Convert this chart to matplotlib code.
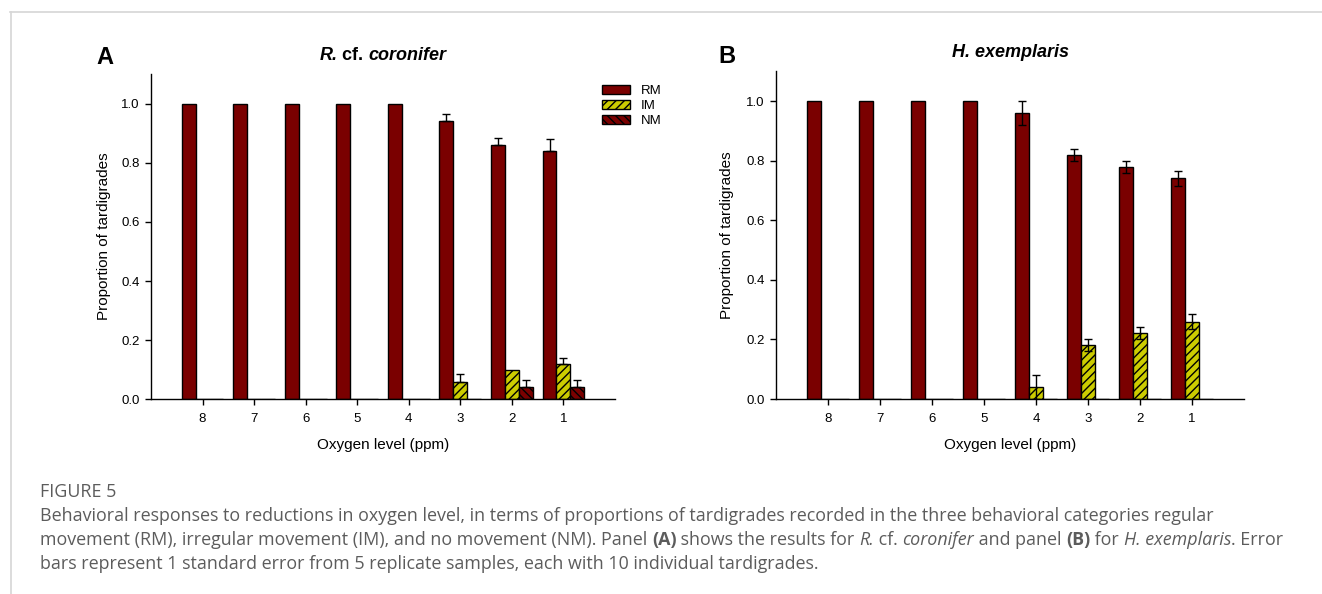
import numpy as np
import matplotlib
matplotlib.use("Agg")
import matplotlib.pyplot as plt
from matplotlib.patches import Patch
from matplotlib.lines import Line2D

# ---------------- data ----------------
oxygen_levels = ["8", "7", "6", "5", "4", "3", "2", "1"]

a_rm = [1.00, 1.00, 1.00, 1.00, 1.00, 0.94, 0.86, 0.84]
a_rm_err = [0, 0, 0, 0, 0, 0.024, 0.024, 0.04]
a_im = [0, 0, 0, 0, 0, 0.06, 0.10, 0.12]
a_im_err = [0, 0, 0, 0, 0, 0.024, 0.0, 0.02]
a_nm = [0, 0, 0, 0, 0, 0, 0.04, 0.04]
a_nm_err = [0, 0, 0, 0, 0, 0, 0.024, 0.024]

b_rm = [1.00, 1.00, 1.00, 1.00, 0.96, 0.82, 0.78, 0.74]
b_rm_err = [0, 0, 0, 0, 0.04, 0.02, 0.02, 0.025]
b_im = [0, 0, 0, 0, 0.04, 0.18, 0.22, 0.26]
b_im_err = [0, 0, 0, 0, 0.04, 0.02, 0.02, 0.025]
b_nm = [0, 0, 0, 0, 0, 0, 0, 0]
b_nm_err = [0, 0, 0, 0, 0, 0, 0, 0]

legend_labels = ["RM", "IM", "NM"]

# ---------------- style ----------------
W, H = 1322, 594
plt.rcParams["font.family"] = ["Liberation Sans", "DejaVu Sans"]
plt.rcParams["hatch.linewidth"] = 1.0
RM_COLOR = "#7a0000"
IM_COLOR = "#cccc00"
NM_COLOR = "#7a0000"
BW = 0.27

fig = plt.figure(figsize=(W / 100, H / 100), dpi=100)


def px_axes(l, t, r, b):
    return [l / W, 1 - b / H, (r - l) / W, (b - t) / H]


def panel(ax, rm, rme, im, ime, nm, nme, upper_only):
    x = np.arange(len(oxygen_levels))
    kw = dict(width=BW, edgecolor="black", linewidth=1.0, zorder=2)
    ax.bar(x - BW, rm, color=RM_COLOR, **kw)
    ax.bar(x, im, color=IM_COLOR, hatch="////", **kw)
    ax.bar(x + BW, nm, color=NM_COLOR, hatch="\\\\\\\\", **kw)
    for off, vals, errs in ((-BW, rm, rme), (0, im, ime), (BW, nm, nme)):
        vals = np.array(vals)
        errs = np.array(errs)
        m = errs > 0
        if not m.any():
            continue
        low = np.zeros_like(errs) if upper_only else errs
        ax.errorbar(x[m] + off, vals[m], yerr=[low[m], errs[m]], fmt="none",
                    ecolor="black", elinewidth=1.0, capsize=3.2, capthick=1.0,
                    zorder=3)
    ax.set_xlim(-1, 8)
    ax.set_ylim(0, 1.1)
    ax.set_xticks(x)
    ax.set_xticklabels(oxygen_levels)
    ax.set_yticks([0, 0.2, 0.4, 0.6, 0.8, 1.0])
    ax.set_yticklabels(["0.0", "0.2", "0.4", "0.6", "0.8", "1.0"])
    ax.tick_params(direction="out", length=4, width=1, labelsize=9.5, pad=4)
    ax.tick_params(axis="x", pad=6)
    for s in ("top", "right"):
        ax.spines[s].set_visible(False)
    for s in ("left", "bottom"):
        ax.spines[s].set_linewidth(1.0)
    ax.set_xlabel("Oxygen level (ppm)", fontsize=11)
    ax.set_ylabel("Proportion of tardigrades", fontsize=11)


axA = fig.add_axes(px_axes(151, 74, 615, 399.3))
panel(axA, a_rm, a_rm_err, a_im, a_im_err, a_nm, a_nm_err, upper_only=True)
axA.yaxis.set_label_coords(-0.087, 0.5)
axA.xaxis.set_label_coords(0.5, -0.118)

axB = fig.add_axes(px_axes(776, 71.2, 1244, 399))
panel(axB, b_rm, b_rm_err, b_im, b_im_err, b_nm, b_nm_err, upper_only=False)
axB.yaxis.set_label_coords(-0.09, 0.5)
axB.xaxis.set_label_coords(0.5, -0.118)

# legend (panel A)
handles = [Patch(facecolor=RM_COLOR, edgecolor="black", linewidth=1.0),
           Patch(facecolor=IM_COLOR, edgecolor="black", linewidth=1.0, hatch="////"),
           Patch(facecolor=NM_COLOR, edgecolor="black", linewidth=1.0, hatch="\\\\\\\\")]
fig.legend(handles, legend_labels, loc="upper left",
           bbox_to_anchor=(602 / W, 1 - 85 / H), frameon=False, fontsize=9.5,
           handlelength=2.1, handleheight=0.7, labelspacing=0.2,
           handletextpad=0.85, borderpad=0.0, borderaxespad=0.0)

# panel letters & titles
fig.text(105 / W, 1 - 64 / H, "A", fontsize=17, fontweight="bold",
         ha="center", va="baseline")
fig.text(727 / W, 1 - 63 / H, "B", fontsize=17, fontweight="bold",
         ha="center", va="baseline")

renderer = fig.canvas.get_renderer()


def draw_runs(runs, x, y, ha="left", **common):
    """runs: list of (text, style). x, y in pixels (y from top, baseline)."""
    widths = []
    objs = []
    for txt, st in runs:
        kw = dict(common)
        kw.update(st)
        t = fig.text(0, 0, txt, va="baseline", ha="left", **kw)
        bb = t.get_window_extent(renderer)
        widths.append(bb.width)
        objs.append(t)
    total = sum(widths)
    x0 = x - total / 2 if ha == "center" else x
    cur = x0
    for t, w in zip(objs, widths):
        t.set_position((cur / W, 1 - y / H))
        cur += w
    return total


BI = dict(fontweight="bold", fontstyle="italic")
B = dict(fontweight="bold")
draw_runs([("R.", BI), (" cf. ", B), ("coronifer", BI)], 383, 60, ha="center",
          fontsize=13)
draw_runs([("H. exemplaris", BI)], 1010, 57, ha="center", fontsize=13)

# caption
CAP = ["Open Sans", "DejaVu Sans"]
ccol = "#5c5c5c"
cfs = 12.9
fig.text(40 / W, 1 - 497 / H, "FIGURE 5", fontsize=cfs, color=ccol,
         family=CAP, va="baseline")
N = {}
It = dict(fontstyle="italic")
Bo = dict(fontweight="bold")
line1 = [("Behavioral responses to reductions in oxygen level, in terms of proportions "
          "of tardigrades recorded in the three behavioral categories regular", N)]
line2 = [("movement (RM), irregular movement (IM), and no movement (NM). Panel ", N),
         ("(A)", Bo), (" shows the results for ", N), ("R.", It), (" cf. ", N),
         ("coronifer", It), (" and panel ", N), ("(B)", Bo), (" for ", N),
         ("H. exemplaris", It), (". Error", N)]
line3 = [("bars represent 1 standard error from 5 replicate samples, each with 10 "
          "individual tardigrades.", N)]
for ln, yb in ((line1, 521), (line2, 545), (line3, 569)):
    draw_runs(ln, 40, yb, fontsize=cfs, color=ccol, family=CAP)

# border lines
fig.add_artist(Line2D([10.5 / W, 10.5 / W], [0, 1 - 12 / H], transform=fig.transFigure,
                      color="#d6d6d6", lw=1.2))
fig.add_artist(Line2D([10 / W, 1], [1 - 12 / H, 1 - 12 / H], transform=fig.transFigure,
                      color="#d6d6d6", lw=1.2))

fig.savefig("out.png", dpi=100)
